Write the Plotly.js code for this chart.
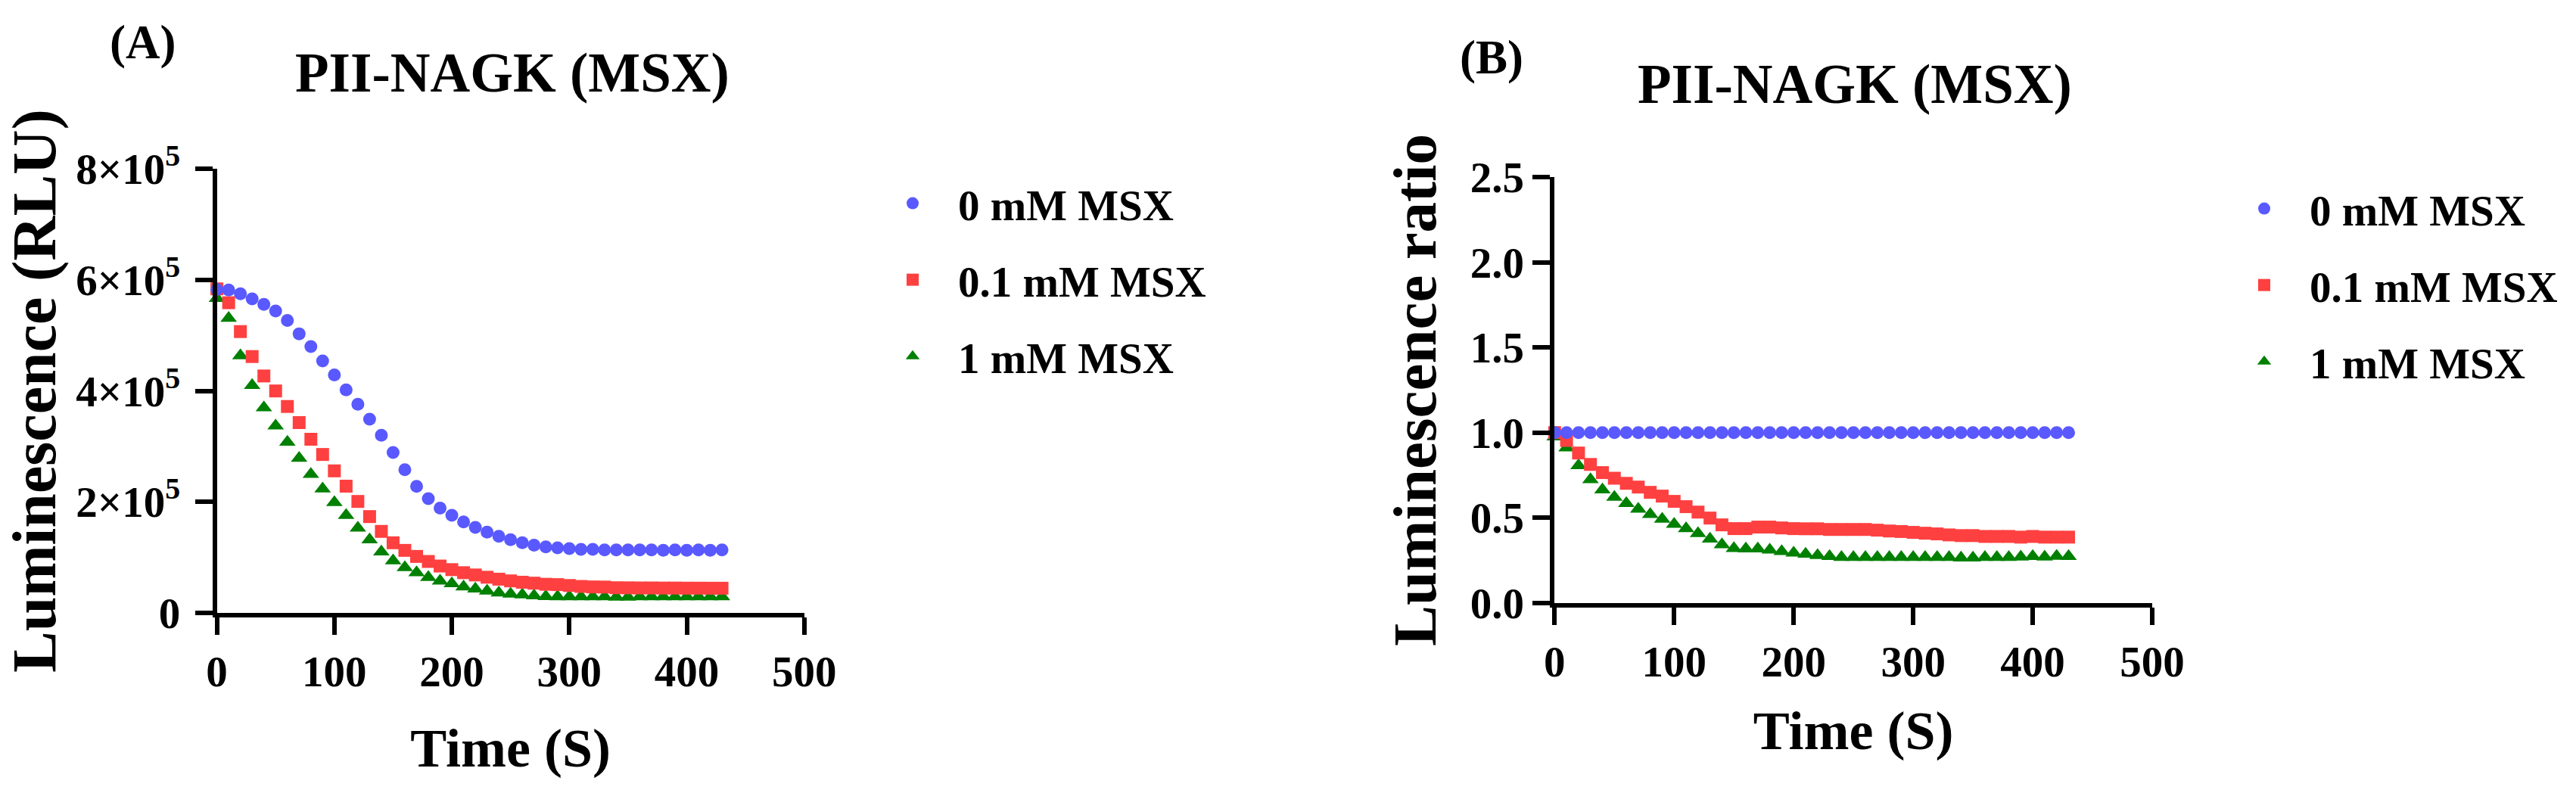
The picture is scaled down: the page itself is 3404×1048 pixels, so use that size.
<!DOCTYPE html>
<html>
<head>
<meta charset="utf-8">
<script src="https://cdn.plot.ly/plotly-3.0.1.min.js"></script>
<style>
  html, body { margin: 0; padding: 0; background: #fff; }
  #chart { width: 3404px; height: 1048px; }
</style>
</head>
<body>
<div id="chart"></div>
<script>
// sampling times (s), one reading every 10 s
const time_s = [0, 10, 20, 30, 40, 50, 60, 70, 80, 90, 100, 110, 120, 130, 140, 150, 160, 170, 180, 190,
    200, 210, 220, 230, 240, 250, 260, 270, 280, 290, 300, 310, 320, 330, 340, 350, 360, 370, 380, 390,
    400, 410, 420, 430];

const seriesNames = ['0 mM MSX', '0.1 mM MSX', '1 mM MSX'];

// (A) raw luminescence, RLU
const rlu_0mM = [583000, 582000, 575000, 566000, 556000, 544000, 527000, 503000, 480000, 454000,
    429000, 402000, 376000, 349000, 320000, 289000, 258000, 228000, 206000, 189000,
    176000, 164000, 154000, 145500, 138000, 132000, 126500, 122000, 119000, 117300,
    116000, 114500, 114500, 113600, 113600, 113600, 113600, 113600, 112700, 113600,
    112700, 113600, 112700, 113600];
const rlu_01mM = [584000, 559000, 507000, 462000, 427000, 400000, 372000, 343000, 313000, 285500,
    256000, 228400, 200900, 173600, 146900, 126400, 112700, 101800, 92700, 84500,
    78000, 72500, 68400, 64300, 60800, 57700, 55300, 53600, 51600, 51000,
    49400, 47700, 46800, 46600, 45400, 45200, 45000, 45000, 44800, 44800,
    44600, 44600, 44500, 44500];
const rlu_1mM = [567000, 531000, 463600, 410000, 370000, 337000, 308000, 279000, 250000, 223600,
    199000, 176000, 153000, 131800, 110000, 94000, 81800, 72700, 64000, 57700,
    52700, 47000, 43400, 39500, 36000, 34000, 32700, 30900, 29500, 29300,
    29300, 29300, 29300, 29300, 28800, 28800, 29300, 29300, 29300, 29300,
    29300, 29300, 29300, 29300];

// (B) luminescence ratio
const ratio_0mM = [1.0, 1.0, 1.0, 1.0, 1.0, 1.0, 1.0, 1.0, 1.0, 1.0,
    1.0, 1.0, 1.0, 1.0, 1.0, 1.0, 1.0, 1.0, 1.0, 1.0,
    1.0, 1.0, 1.0, 1.0, 1.0, 1.0, 1.0, 1.0, 1.0, 1.0,
    1.0, 1.0, 1.0, 1.0, 1.0, 1.0, 1.0, 1.0, 1.0, 1.0,
    1.0, 1.0, 1.0, 1.0];
const ratio_01mM = [1.0, 0.954, 0.88, 0.813, 0.765, 0.732, 0.702, 0.68, 0.649, 0.627,
    0.596, 0.565, 0.533, 0.498, 0.458, 0.436, 0.436, 0.445, 0.445, 0.44,
    0.436, 0.435, 0.435, 0.431, 0.431, 0.431, 0.431, 0.427, 0.422, 0.419,
    0.414, 0.409, 0.405, 0.399, 0.395, 0.395, 0.39, 0.39, 0.39, 0.386,
    0.39, 0.386, 0.386, 0.386];
const ratio_1mM = [0.975, 0.911, 0.806, 0.724, 0.664, 0.621, 0.584, 0.551, 0.52, 0.492,
    0.462, 0.436, 0.408, 0.375, 0.342, 0.32, 0.317, 0.317, 0.311, 0.302,
    0.293, 0.286, 0.279, 0.273, 0.267, 0.267, 0.267, 0.267, 0.267, 0.268,
    0.268, 0.268, 0.268, 0.268, 0.264, 0.264, 0.268, 0.268, 0.268, 0.27,
    0.273, 0.27, 0.274, 0.273];

const xTicks = [0, 100, 200, 300, 400, 500];
const rluTicks = [0, 200000, 400000, 600000, 800000];
const rluTickText = ['0', '2×10<sup>5</sup>', '4×10<sup>5</sup>', '6×10<sup>5</sup>', '8×10<sup>5</sup>'];

const colors = ['#5959ff', '#ff4040', '#008000'];
const symbols = ['circle', 'square', 'triangle-up'];
const sizes = [17, 17, 19];

const FONT = 'Liberation Serif, Times New Roman, serif';

function trace(i, y, xa, ya, legend) {
    return {
        x: time_s,
        y: y,
        xaxis: xa,
        yaxis: ya,
        mode: 'markers',
        type: 'scatter',
        name: seriesNames[i],
        legend: legend,
        legendgroup: legend + i,
        legendrank: i + 1,
        marker: { color: colors[i], symbol: symbols[i], size: sizes[i], line: { width: 0 } },
        cliponaxis: false
    };
}

// green first so blue ends up on top, as in the figure
const data = [
    trace(2, rlu_1mM, 'x', 'y', 'legend'),
    trace(1, rlu_01mM, 'x', 'y', 'legend'),
    trace(0, rlu_0mM, 'x', 'y', 'legend'),
    trace(2, ratio_1mM, 'x2', 'y2', 'legend2'),
    trace(1, ratio_01mM, 'x2', 'y2', 'legend2'),
    trace(0, ratio_0mM, 'x2', 'y2', 'legend2')
];

const axisBase = {
    showline: true, linecolor: '#000', linewidth: 6,
    ticks: 'outside', ticklen: 23, tickwidth: 6, tickcolor: '#000',
    showgrid: false, zeroline: false, fixedrange: true,
    tickfont: { family: FONT, size: 57, color: '#000', weight: 'bold' }
};

const legendBase = {
    font: { family: FONT, size: 57, color: '#000', weight: 'bold' },
    traceorder: 'grouped', tracegroupgap: 24, itemwidth: 110,
    xanchor: 'left', yanchor: 'top', bgcolor: 'rgba(0,0,0,0)'
};

const layout = {
    width: 3404, height: 1048,
    margin: { l: 0, r: 0, t: 0, b: 0 },
    paper_bgcolor: '#fff', plot_bgcolor: '#fff',
    showlegend: true,
    xaxis: Object.assign({}, axisBase, {
        domain: [0.0842, 0.3122], range: [0, 500], tickvals: xTicks, anchor: 'y',
        title: { text: 'Time (S)', font: { family: FONT, size: 72, color: '#000', weight: 'bold' }, standoff: 46 }
    }),
    yaxis: Object.assign({}, axisBase, {
        domain: [0.2271, 0.7869], range: [0, 800000], tickvals: rluTicks, ticktext: rluTickText, anchor: 'x',
        ticklabelstandoff: 8,
        title: { text: 'Luminescence (RLU)', font: { family: FONT, size: 82, color: '#000', weight: 'bold' }, standoff: 18 }
    }),
    xaxis2: Object.assign({}, axisBase, {
        domain: [0.6035, 0.8355], range: [0, 500], tickvals: xTicks, anchor: 'y2',
        title: { text: 'Time (S)', font: { family: FONT, size: 72, color: '#000', weight: 'bold' }, standoff: 37 }
    }),
    yaxis2: Object.assign({}, axisBase, {
        domain: [0.2398, 0.7765], range: [0, 2.5], dtick: 0.5, tick0: 0, tickformat: '.1f', anchor: 'x2',
        title: { text: 'Luminescence ratio', font: { family: FONT, size: 81, color: '#000', weight: 'bold' }, standoff: 20 }
    }),
    legend: Object.assign({}, legendBase, { x: 1146 / 3404, y: 1 - 225 / 1048 }),
    legend2: Object.assign({}, legendBase, { x: 2932 / 3404, y: 1 - 232 / 1048 }),
    annotations: [
        { text: 'PII-NAGK (MSX)', x: 677 / 3404, y: 1 - 97 / 1048, xref: 'paper', yref: 'paper',
          showarrow: false, xanchor: 'center', yanchor: 'middle',
          font: { family: FONT, size: 73, color: '#000', weight: 'bold' } },
        { text: 'PII-NAGK (MSX)', x: 2451 / 3404, y: 1 - 112 / 1048, xref: 'paper', yref: 'paper',
          showarrow: false, xanchor: 'center', yanchor: 'middle',
          font: { family: FONT, size: 73, color: '#000', weight: 'bold' } },
        { text: '(A)', x: 188 / 3404, y: 1 - 56 / 1048, xref: 'paper', yref: 'paper',
          showarrow: false, xanchor: 'center', yanchor: 'middle',
          font: { family: FONT, size: 63, color: '#000', weight: 'bold' } },
        { text: '(B)', x: 1971 / 3404, y: 1 - 76 / 1048, xref: 'paper', yref: 'paper',
          showarrow: false, xanchor: 'center', yanchor: 'middle',
          font: { family: FONT, size: 63, color: '#000', weight: 'bold' } }
    ]
};

Plotly.newPlot('chart', data, layout, { displayModeBar: false, staticPlot: true });
</script>
</body>
</html>
